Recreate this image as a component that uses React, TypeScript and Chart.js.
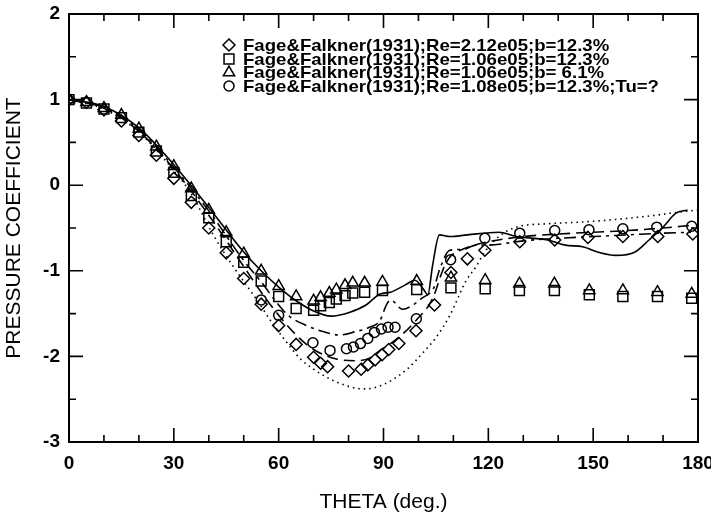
import React, { useEffect, useRef } from 'react';
import { Chart, registerables } from 'chart.js';

Chart.register(...registerables);

// ---------- data ----------
const xTickValues = [0, 30, 60, 90, 120, 150, 180];
const yTickValues = [-3, -2, -1, 0, 1, 2];

const legendLabels = [
  'Fage&Falkner(1931);Re=2.12e05;b=12.3%',
  'Fage&Falkner(1931);Re=1.06e05;b=12.3%',
  'Fage&Falkner(1931);Re=1.06e05;b= 6.1%',
  'Fage&Falkner(1931);Re=1.08e05;b=12.3%;Tu=?',
];

const diamondTheta = [0, 5, 10, 15, 20, 25, 30, 35, 40, 45, 50, 55, 60, 65, 70, 72, 74, 80, 83.6, 85.5, 87.6, 89.6, 91.5, 94.4, 99.3, 104.6, 109.3, 114, 119, 129, 139, 148.5, 158.5, 168.5, 178.5];
const diamondCp = [1.0, 0.97, 0.88, 0.75, 0.58, 0.35, 0.08, -0.2, -0.5, -0.79, -1.09, -1.39, -1.64, -1.86, -2.01, -2.08, -2.12, -2.17, -2.15, -2.1, -2.04, -1.98, -1.92, -1.85, -1.7, -1.4, -1.02, -0.86, -0.76, -0.66, -0.64, -0.61, -0.6, -0.6, -0.57];

const squareTheta = [0, 5, 10, 15, 20, 25, 30, 35, 40, 45, 50, 55, 60, 65, 70, 72, 74.5, 76.5, 79, 81.2, 84.6, 89.7, 99.5, 109.3, 119.1, 128.9, 138.9, 148.9, 158.5, 168.4, 178.2];
const squareCp = [1.0, 0.96, 0.89, 0.79, 0.62, 0.4, 0.15, -0.12, -0.38, -0.66, -0.9, -1.12, -1.3, -1.44, -1.46, -1.41, -1.37, -1.33, -1.29, -1.26, -1.25, -1.23, -1.22, -1.2, -1.21, -1.23, -1.23, -1.28, -1.3, -1.3, -1.32];

const triangleTheta = [0, 5, 10, 15, 20, 25, 30, 35, 40, 45, 50, 55, 60, 65, 70, 72, 74.5, 76.5, 79, 81.2, 84.6, 89.7, 99.5, 109.3, 119.1, 128.9, 138.9, 148.9, 158.5, 168.4, 178.2];
const triangleCp = [1.0, 0.97, 0.9, 0.82, 0.66, 0.45, 0.22, -0.04, -0.29, -0.55, -0.8, -1.0, -1.18, -1.3, -1.35, -1.31, -1.26, -1.22, -1.17, -1.14, -1.14, -1.13, -1.12, -1.08, -1.11, -1.15, -1.15, -1.23, -1.23, -1.25, -1.27];

const circleTheta = [55, 60, 69.8, 74.7, 79.4, 81.4, 83.4, 85.5, 87.4, 89.4, 91.3, 93.3, 99.4, 109.2, 119, 129, 139, 148.8, 158.5, 168.2, 178.2];
const circleCp = [-1.34, -1.52, -1.84, -1.93, -1.91, -1.89, -1.85, -1.79, -1.72, -1.68, -1.66, -1.66, -1.56, -0.87, -0.62, -0.56, -0.53, -0.52, -0.51, -0.49, -0.48];

const solidTheta = [0, 10, 20, 30, 40, 50, 55, 60, 65, 70, 75, 80, 85, 89, 92, 96, 99, 101.5, 102.7, 104, 106, 109, 114, 123, 128, 137, 142, 147, 152, 156.5, 162, 166, 170, 173.6, 177];
const solidCp = [1.0, 0.92, 0.67, 0.24, -0.26, -0.78, -1.0, -1.19, -1.35, -1.47, -1.53, -1.49, -1.4, -1.27, -1.25, -1.17, -1.11, -1.22, -1.28, -0.95, -0.58, -0.6, -0.58, -0.55, -0.6, -0.64, -0.7, -0.72, -0.79, -0.82, -0.78, -0.64, -0.49, -0.33, -0.29];

const dashDotTheta = [0, 10, 20, 30, 40, 50, 55, 60, 63, 68, 72.7, 77.4, 82, 86, 89, 90.8, 92, 95.5, 98.4, 101, 104.5, 106, 109, 112.7, 116.5, 120, 130, 140, 150, 160, 170, 178];
const dashDotCp = [1.0, 0.91, 0.65, 0.21, -0.3, -0.88, -1.13, -1.4, -1.53, -1.64, -1.71, -1.75, -1.71, -1.66, -1.58, -1.4, -1.34, -1.45, -1.4, -1.32, -1.19, -0.99, -0.76, -0.75, -0.7, -0.7, -0.65, -0.62, -0.6, -0.58, -0.56, -0.55];

const dashedTheta = [0, 10, 20, 30, 40, 50, 55, 60, 65, 70, 76.5, 82, 86, 89, 92.7, 96, 99.3, 104, 107, 109, 112, 116, 120, 130, 140, 150, 160, 170, 178];
const dashedCp = [1.0, 0.9, 0.63, 0.19, -0.35, -0.95, -1.25, -1.52, -1.75, -1.92, -2.03, -2.05, -2.02, -1.93, -1.83, -1.72, -1.58, -1.33, -0.99, -0.84, -0.76, -0.7, -0.66, -0.6, -0.57, -0.55, -0.53, -0.5, -0.47];

const dottedTheta = [0, 10, 20, 30, 35, 41, 47, 53.6, 58, 62, 66, 70, 75.5, 80, 84, 88, 92.7, 97, 101, 105, 109, 113.6, 116.5, 119, 123, 128, 137, 147, 156.5, 166, 175.5, 180];
const dottedCp = [1.0, 0.89, 0.62, 0.17, -0.1, -0.56, -0.95, -1.33, -1.6, -1.82, -2.02, -2.15, -2.28, -2.35, -2.38, -2.36, -2.27, -2.14, -1.97, -1.78, -1.52, -1.12, -0.95, -0.78, -0.6, -0.49, -0.45, -0.43, -0.4, -0.36, -0.31, -0.29];

// ---------- helpers ----------
const zip = (xs: number[], ys: number[]) => xs.map((x, i) => ({ x, y: ys[i] }));
const FONT = "'Liberation Sans', Arial, Helvetica, sans-serif";

const markerDataset = (label: string, xs: number[], ys: number[], style: string, radius: number) => ({
  label,
  data: zip(xs, ys),
  showLine: false,
  pointStyle: style,
  pointRadius: radius,
  pointHoverRadius: radius,
  pointBorderWidth: 1.5,
  pointBorderColor: '#000',
  pointBackgroundColor: 'rgba(0,0,0,0)',
  borderColor: '#000',
  backgroundColor: 'rgba(0,0,0,0)',
});

const lineDataset = (label: string, xs: number[], ys: number[], dash: number[], width: number) => ({
  label,
  data: zip(xs, ys),
  showLine: true,
  pointRadius: 0,
  pointHoverRadius: 0,
  borderColor: '#000',
  borderWidth: width,
  borderDash: dash,
  cubicInterpolationMode: 'monotone' as const,
  fill: false,
});

function drawSymbol(ctx: CanvasRenderingContext2D, style: string, x: number, y: number, r: number) {
  ctx.beginPath();
  if (style === 'rectRot') {
    ctx.moveTo(x - r, y); ctx.lineTo(x, y - r); ctx.lineTo(x + r, y); ctx.lineTo(x, y + r); ctx.closePath();
  } else if (style === 'rect') {
    const s = r * Math.SQRT1_2;
    ctx.rect(x - s, y - s, 2 * s, 2 * s);
  } else if (style === 'triangle') {
    for (let i = 0; i < 3; i++) {
      const a = (i * 2 * Math.PI) / 3;
      const px = x + Math.sin(a) * r, py = y - Math.cos(a) * r;
      if (i === 0) ctx.moveTo(px, py); else ctx.lineTo(px, py);
    }
    ctx.closePath();
  } else {
    ctx.arc(x, y, r, 0, Math.PI * 2);
  }
  ctx.stroke();
}

const framePlugin = {
  id: 'frameTicks',
  afterDraw(chart: any) {
    const { ctx, chartArea: a, scales } = chart;
    const xs = scales.x, ys = scales.y;
    ctx.save();
    ctx.strokeStyle = '#000';
    ctx.lineWidth = 2;
    ctx.strokeRect(a.left, a.top, a.right - a.left, a.bottom - a.top);
    ctx.lineWidth = 1.6;
    ctx.beginPath();
    for (let v = 0; v <= 180; v += 10) {
      const px = xs.getPixelForValue(v);
      const len = v % 30 === 0 ? 14 : 7;
      ctx.moveTo(px, a.bottom); ctx.lineTo(px, a.bottom - len);
      ctx.moveTo(px, a.top); ctx.lineTo(px, a.top + len);
    }
    for (let v = -3; v <= 2; v += 0.5) {
      const py = ys.getPixelForValue(v);
      const len = Number.isInteger(v) ? 14 : 7;
      ctx.moveTo(a.left, py); ctx.lineTo(a.left + len, py);
      ctx.moveTo(a.right, py); ctx.lineTo(a.right - len, py);
    }
    ctx.stroke();

    // legend
    const styles = ['rectRot', 'rect', 'triangle', 'circle'];
    const radii = [6, 7, 6.5, 5];
    const rowY = [45, 59, 72.5, 86];
    const symX = 229, textX = 243;
    ctx.font = `bold 17px ${FONT}`;
    const prefixW = ctx.measureText('Fage&Falkner(1931);Re=2.12e05').width;
    const sx = 285 / prefixW;
    ctx.fillStyle = '#000';
    ctx.textBaseline = 'middle';
    ctx.textAlign = 'left';
    ctx.lineWidth = 1.5;
    legendLabels.forEach((lbl, i) => {
      drawSymbol(ctx, styles[i], symX, rowY[i], radii[i]);
      ctx.save();
      ctx.translate(textX, rowY[i] + 1);
      ctx.scale(sx, 1);
      ctx.fillText(lbl, 0, 0);
      ctx.restore();
    });
    ctx.restore();
  },
};

export default function App() {
  const ref = useRef<HTMLCanvasElement | null>(null);

  useEffect(() => {
    if (!ref.current) return;
    const chart = new Chart(ref.current, {
      type: 'scatter',
      data: {
        datasets: [
          lineDataset('solid', solidTheta, solidCp, [], 1.6),
          lineDataset('dashdot', dashDotTheta, dashDotCp, [12, 5, 3, 5], 1.6),
          lineDataset('dashed', dashedTheta, dashedCp, [11, 6], 1.6),
          lineDataset('dotted', dottedTheta, dottedCp, [1.5, 4], 1.6),
          markerDataset(legendLabels[0], diamondTheta, diamondCp, 'rectRot', 6),
          markerDataset(legendLabels[1], squareTheta, squareCp, 'rect', 7),
          markerDataset(legendLabels[2], triangleTheta, triangleCp, 'triangle', 6.5),
          markerDataset(legendLabels[3], circleTheta, circleCp, 'circle', 5),
        ] as any,
      },
      options: {
        animation: false,
        responsive: false,
        maintainAspectRatio: false,
        events: [],
        layout: { padding: { left: 0, right: 13, top: 14, bottom: 0 } },
        plugins: { legend: { display: false }, tooltip: { enabled: false } },
        scales: {
          x: {
            type: 'linear',
            min: 0,
            max: 180,
            afterBuildTicks: (scale: any) => { scale.ticks = xTickValues.map((v) => ({ value: v })); },
            afterFit: (scale: any) => { scale.height = 77; scale.paddingLeft = 0; scale.paddingRight = 0; },
            grid: { display: false, drawTicks: false },
            border: { display: false },
            ticks: { color: '#000', padding: 10, maxRotation: 0, font: { family: FONT, size: 19, weight: 'bold' } },
            title: { display: true, text: 'THETA (deg.)', color: '#000', font: { family: FONT, size: 21 }, padding: { top: 0, bottom: 4 } },
          },
          y: {
            type: 'linear',
            min: -3,
            max: 2,
            afterBuildTicks: (scale: any) => { scale.ticks = yTickValues.map((v) => ({ value: v })); },
            afterFit: (scale: any) => { scale.width = 69; scale.paddingTop = 0; scale.paddingBottom = 0; },
            grid: { display: false, drawTicks: false },
            border: { display: false },
            ticks: { color: '#000', padding: 9, font: { family: FONT, size: 19, weight: 'bold' } },
            title: { display: true, text: 'PRESSURE COEFFICIENT', color: '#000', font: { family: FONT, size: 21 }, padding: { top: 2, bottom: 0 } },
          },
        },
      },
      plugins: [framePlugin],
    });
    return () => chart.destroy();
  }, []);

  return (
    <div style={{ position: 'fixed', left: 0, top: 0, width: 711, height: 519, background: '#fff' }}>
      <canvas ref={ref} width={711} height={519} style={{ display: 'block', width: 711, height: 519 }} />
    </div>
  );
}
